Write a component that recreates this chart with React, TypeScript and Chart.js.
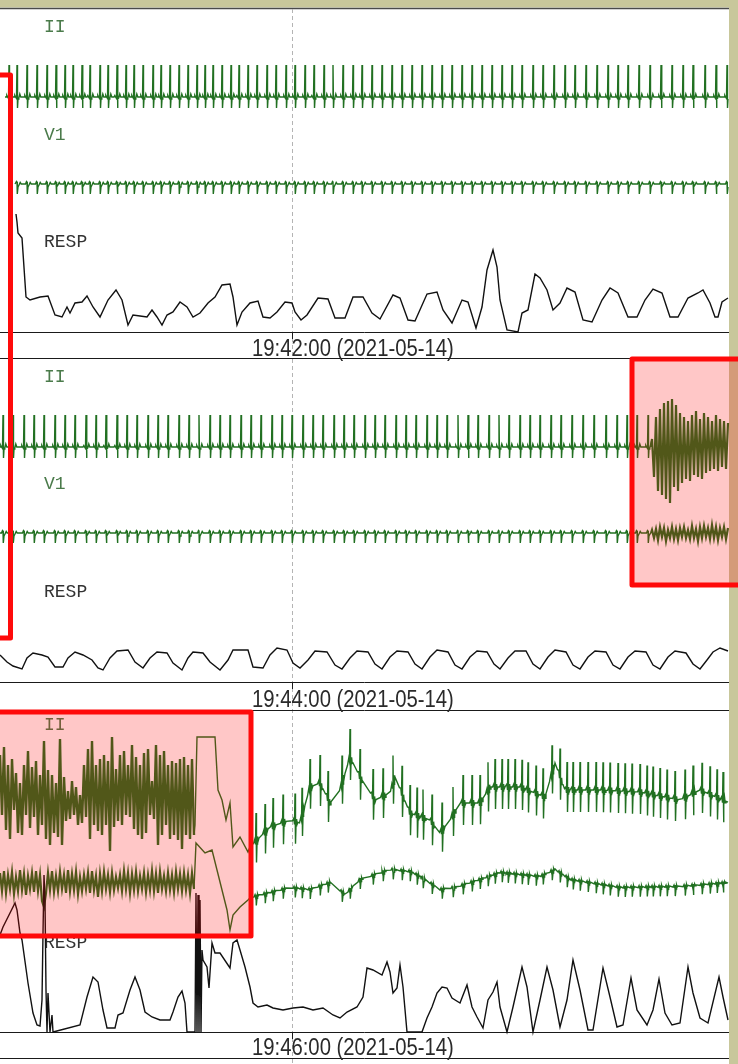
import { useEffect, useRef } from 'react';
import { Chart, registerables } from 'chart.js';

Chart.register(...registerables);

// ---------- labels ----------
const TIME_LABELS = ['19:42:00 (2021-05-14)', '19:44:00 (2021-05-14)', '19:46:00 (2021-05-14)'];
const TICK_TIME = 29.2; // seconds into each strip where the time label tick sits
const LEAD_NAMES = ['II', 'V1', 'RESP'];

// ---------- beat times (s) ----------
const P1_BEATS = [0.9, 1.7, 2.7, 3.7, 4.7, 5.6, 6.5, 7.3, 8.2, 9.0, 10.0, 10.8, 11.7, 12.6, 13.4, 14.3, 15.3, 16.1, 17.0, 17.9, 18.8, 19.7, 20.5, 21.3, 22.2, 23.1, 23.9, 24.8, 25.7, 26.7, 27.6, 28.6, 29.5, 30.5, 31.4, 32.4, 33.3, 34.3, 35.3, 36.2, 37.2, 38.2, 39.2, 40.2, 41.2, 42.2, 43.2, 44.2, 45.2, 46.2, 47.2, 48.2, 49.2, 50.2, 51.2, 52.2, 53.3, 54.3, 55.4, 56.5, 57.5, 58.6, 59.7, 60.8, 61.8, 62.8, 63.9, 65.0, 66.1, 67.2, 68.3, 69.3, 70.5, 71.6, 72.7];
const P2_BEATS = [0.3, 1.3, 2.4, 3.4, 4.4, 5.5, 6.5, 7.5, 8.6, 9.6, 10.6, 11.7, 12.7, 13.7, 14.8, 15.8, 16.8, 17.9, 18.9, 19.9, 21.0, 22.0, 23.0, 24.1, 25.1, 26.1, 27.2, 28.2, 29.2, 30.3, 31.3, 32.3, 33.4, 34.4, 35.4, 36.5, 37.5, 38.5, 39.6, 40.6, 41.6, 42.7, 43.7, 44.7, 45.8, 46.8, 47.8, 48.9, 49.9, 50.9, 52.0, 53.0, 54.0, 55.1, 56.1, 57.2, 58.3, 59.4, 60.6, 61.7, 62.7, 63.7, 64.8];
const P3_BEATS = [25.6, 26.5, 27.3, 28.3, 29.5, 30.2, 31.0, 32.0, 32.8, 34.2, 35.0, 36.0, 37.3, 38.3, 39.3, 40.2, 41.0, 41.7, 42.3, 43.2, 44.2, 45.3, 46.3, 47.2, 48.0, 48.8, 49.5, 50.2, 50.8, 51.5, 52.2, 52.8, 53.6, 54.3, 55.2, 56.0, 56.7, 57.3, 58.0, 58.8, 59.6, 60.3, 61.0, 61.8, 62.5, 63.2, 64.0, 64.7, 65.3, 66.0, 66.7, 67.5, 68.5, 69.3, 70.2, 71.0, 71.7, 72.3];

// ---------- beat shapes [dt s, amplitude] ----------
const II_TPL = [[-0.3, 0], [-0.22, 1.5], [-0.15, 0], [-0.05, -1.5], [0, 32], [0.05, -11], [0.1, -2], [0.18, -1], [0.28, 3], [0.38, 0]];
const V1_TPL = [[-0.15, 0], [-0.05, 2.5], [0, 2], [0.03, -10], [0.1, -3], [0.2, -1], [0.32, 1.5], [0.42, 0]];
const P3_II_TPL = [[-0.25, 0], [-0.12, 3], [-0.05, -3], [0, 28], [0.05, -22], [0.1, -4], [0.16, 3], [0.22, -2], [0.3, 0]];
const P3_V1_TPL = [[-0.2, 0], [-0.1, 2], [-0.04, -1], [0, 2], [0.03, -9], [0.1, -2], [0.16, 2], [0.22, 0], [0.3, 1]];

// ---------- artifact samples (every 0.2 s) ----------
const P2_II_ART = [8, -30, 30, -44, 38, -48, 44, -52, 46, -56, 48, -40, 42, -44, 34, -36, 30, -32, 26, -34, 32, -28, 36, -30, 28, -32, 34, -26, 30, -24, 26, -22, 32, -24, 28, -20, 26, -22, 24];
const P2_V1_ART = [3, -5, 4, -7, 6, -4, 5, -8, 3, -5, 6, -6, 4, -7, 5, -4, 6, -5, 3, -6, 7, -5, 4, -8, 6, -5, 7, -4, 5, -6, 8, -5, 6, -7, 5, -4, 6, -6, 5];
const P3_II_ART = [40, -20, 48, -35, 30, -44, 36, -15, 22, -38, 12, -40, 30, -20, 44, -33, 28, -22, 34, -40, 20, -30, 54, -44, 25, -50, 20, -38, 12, -42, 56, -50, 18, -26, 4, -24, 14, -20, 8, -30, 0, -28, 30, -22, 46, -44, 54, -30, 30, -36, 36, -40, 40, -30, 34, -56, 58, -32, 26, -26, 40, -30, 44, -20, 30, -22, 50, -34, 38, -40, 30, -44, 42, -38, 46, -20, 14, -24, 50, -50, 40, -40, 44, -30, 30, -44, 34, -40, 32, -45, 36, -54, 38, -40, 30, -44, 36, -40];
const P3_V1_ART = [12, -6, 14, -8, 10, -4, 13, -9, 8, -6, 15, -5, 11, -10, 9, -4, 12, -7, 14, -6, 10, -16, -22, -8, 12, -5, 14, -7, 9, -6, 13, -4, 10, -8, 15, -6, 11, -5, 13, -9, 8, -6, 10, -4, 12, -8, 14, -5, 9, -12, 11, -6, 13, -4, 10, -7, 12, -5, 8, -3, 10, -6, 14, -4, 12, -8, 11, -5, 13, -6, 9, -4, 12, -7, 10, -5, 14, -6, 11, -8, 13, -4, 9, -6, 12, -5, 10, -7, 13, -4, 11, -6, 12, -5, 10, -8, 12, -4];

// ---------- transitions and baseline wander [t, amp] ----------
const P3_II_TRANS = [[19.5, -30], [19.7, 58], [21.5, 58], [21.8, 5], [22.2, -5], [22.6, -25], [23.0, -8], [23.3, -52], [24.0, -42], [24.8, -57]];
const P3_V1_TRANS = [[19.6, 42], [20.5, 32], [21.2, 35], [21.7, 15], [22.2, -5], [22.7, -25], [23.0, -45], [23.3, -30], [24.0, -22], [24.8, -15]];
const P3_II_WANDER = [[25.0, -52], [27.0, -32], [29.0, -25], [30.0, -28], [31.0, 8], [32.0, 12], [33.0, -8], [34.0, 5], [35.0, 38], [36.0, 18], [37.5, -5], [39.0, 2], [39.5, 18], [41.0, -18], [43.0, -25], [44.0, -38], [45.0, -25], [46.0, -8], [48.0, -8], [49.0, 8], [52.0, 8], [54.5, -2], [55.5, 32], [56.5, 5], [60.0, 5], [64.0, 3], [68.0, -5], [70.0, 5], [73.0, -8]];
const P3_V1_WANDER = [[25.0, -13], [29.0, -3], [31.0, -5], [33.0, 2], [34.5, -10], [36.0, 5], [39.0, 15], [41.0, 13], [42.0, 8], [44.0, -5], [45.5, -3], [48.0, 5], [50.0, 12], [54.0, 8], [55.5, 15], [57.0, 5], [62.0, -3], [68.0, -2], [73.0, 2]];

// ---------- respiration [t, amp] ----------
const P1_RESP = [[1.6, 118], [1.7, 110], [1.8, 99], [2.2, 94], [2.6, 35], [3.0, 32], [4.0, 35], [4.8, 36], [5.5, 17], [6.2, 15], [6.7, 25], [7.0, 19], [7.5, 29], [8.2, 30], [8.7, 36], [9.3, 25], [10.0, 15], [10.8, 32], [11.6, 42], [12.2, 32], [12.8, 7], [13.3, 17], [14.0, 16], [14.7, 15], [15.2, 22], [15.7, 15], [16.2, 7], [16.7, 17], [17.3, 20], [18.0, 30], [18.7, 25], [19.3, 15], [20.0, 19], [20.8, 29], [21.5, 35], [22.2, 47], [23.0, 48], [23.3, 35], [23.7, 7], [24.2, 20], [25.0, 29], [25.8, 31], [26.3, 15], [27.0, 14], [27.7, 20], [28.5, 30], [29.2, 29], [29.5, 20], [30.1, 12], [30.7, 17], [31.8, 34], [32.8, 33], [33.5, 14], [34.5, 14], [35.3, 35], [36.3, 35], [37.2, 19], [38.0, 13], [39.3, 37], [40.0, 34], [40.8, 12], [41.5, 11], [42.7, 38], [43.7, 40], [44.3, 22], [45.2, 9], [46.2, 32], [46.8, 30], [47.6, 4], [48.2, 25], [48.7, 62], [49.3, 82], [49.7, 65], [50.0, 32], [50.7, 2], [51.8, 0], [52.2, 19], [52.8, 22], [53.5, 58], [54.0, 54], [54.7, 42], [55.3, 22], [56.0, 29], [56.7, 44], [57.5, 40], [58.3, 12], [59.2, 10], [60.2, 32], [61.0, 44], [61.8, 39], [62.8, 15], [63.7, 15], [64.5, 32], [65.3, 43], [66.2, 39], [67.0, 15], [67.8, 15], [68.8, 34], [69.8, 39], [70.3, 42], [71.0, 29], [71.5, 15], [71.8, 15], [72.2, 30], [72.8, 34]];
const P2_RESP = [[0, 27], [0.7, 20], [1.3, 16], [2.2, 13], [2.7, 24], [3.3, 29], [4.2, 27], [4.8, 25], [5.5, 15], [6.3, 15], [6.8, 24], [7.5, 30], [8.3, 27], [9.2, 22], [9.8, 14], [10.3, 12], [11.0, 24], [11.7, 31], [12.8, 32], [13.5, 20], [14.3, 14], [15.0, 24], [15.7, 30], [16.7, 29], [17.3, 19], [18.2, 12], [18.8, 24], [19.3, 30], [20.3, 29], [21.0, 20], [22.0, 12], [22.8, 22], [23.3, 32], [24.8, 32], [25.3, 15], [26.3, 14], [27.0, 27], [27.7, 34], [28.7, 32], [29.3, 19], [30.0, 14], [30.8, 22], [31.5, 31], [32.7, 30], [33.5, 17], [34.2, 13], [35.0, 24], [35.7, 31], [36.8, 30], [37.5, 18], [38.2, 13], [39.0, 25], [39.7, 31], [40.8, 30], [41.5, 18], [42.2, 13], [43.0, 25], [43.7, 32], [44.8, 30], [45.5, 17], [46.2, 13], [47.0, 25], [47.7, 31], [48.7, 30], [49.4, 18], [50.0, 13], [50.8, 24], [51.5, 31], [52.6, 31], [53.3, 18], [54.0, 13], [54.8, 25], [55.5, 32], [56.6, 30], [57.3, 17], [58.0, 13], [58.8, 25], [59.5, 31], [60.6, 30], [61.3, 17], [62.0, 13], [62.8, 25], [63.5, 31], [64.6, 30], [65.3, 17], [66.0, 13], [66.8, 25], [67.5, 31], [68.6, 29], [69.3, 18], [70.0, 13], [70.7, 22], [71.3, 30], [72.0, 34], [72.8, 31]];
const P3_RESP = [[0, 97], [0.3, 105], [1.0, 119], [1.5, 129], [1.7, 122], [2.0, 99], [2.2, 92], [2.8, 49], [3.3, 19], [3.7, 7], [4.0, 6], [4.2, 32], [4.3, 99], [4.4, 157], [4.5, 132], [4.6, 42], [4.7, 0], [4.8, 39], [5.0, 0], [5.2, 17], [5.3, 0], [8.0, 7], [8.7, 35], [9.3, 55], [9.8, 50], [10.3, 22], [10.7, 4], [11.5, 4], [11.8, 17], [12.3, 19], [13.0, 42], [13.5, 55], [14.0, 42], [14.5, 20], [15.2, 15], [16.0, 12], [17.0, 12], [17.3, 20], [17.8, 35], [18.2, 41], [18.5, 29], [18.7, 0], [19.5, 0], [19.6, 139], [19.7, 0], [19.8, 137], [19.9, 0], [20.0, 132], [20.1, 0], [20.2, 82], [20.3, 72], [20.7, 65], [20.9, 44], [21.2, 89], [21.5, 79], [22.0, 79], [23.0, 64], [23.3, 89], [23.7, 92], [24.0, 82], [24.5, 65], [25.0, 45], [25.3, 29], [25.8, 25], [26.7, 27], [27.3, 24], [28.3, 22], [29.3, 24], [30.3, 25], [31.3, 22], [32.3, 24], [33.3, 17], [34.0, 14], [34.7, 20], [35.7, 25], [36.3, 35], [36.7, 64], [37.3, 62], [38.2, 57], [38.7, 70], [39.0, 60], [39.3, 39], [39.7, 44], [40.0, 67], [40.3, 45], [40.7, 0], [42.2, 0], [42.7, 14], [43.2, 25], [43.7, 39], [44.2, 45], [44.7, 44], [45.2, 34], [46.0, 29], [46.7, 47], [47.2, 25], [47.7, 15], [48.3, 4], [48.8, 32], [49.3, 40], [49.7, 50], [50.0, 25], [50.7, 0], [51.3, 25], [52.2, 65], [52.7, 45], [53.3, 0], [54.0, 32], [54.7, 65], [55.3, 42], [56.0, 5], [56.7, 32], [57.3, 72], [58.0, 42], [58.8, 2], [59.3, 2], [60.3, 64], [61.0, 35], [61.7, 5], [62.3, 7], [63.1, 54], [63.7, 22], [64.7, 7], [65.3, 22], [65.9, 53], [66.5, 19], [67.2, 7], [68.0, 9], [68.8, 65], [69.3, 39], [70.0, 14], [70.8, 9], [71.9, 55], [72.3, 35], [72.8, 12]];

// ---------- layout (y axis units, top-down) ----------
const TRACE_END = 72.9;
const X_MAX = 73.8;
const Y_MAX = 1064;
const TOP_LINE = 8;
const PANEL_LINES = [332, 358, 682, 710, 1032, 1058];
const PANEL_BOTTOMS = [332, 682, 1032];
const LABEL_BASELINES = [356, 707, 1055];
const LEAD_BASELINES = [[32, 140, 247], [382, 489, 597], [730, null, 948]];
const II_BASE = [97, 447, 795];
const V1_BASE = [184, 533, 885];
const RECTS = [
  { x0: -2, x1: 1.05, y0: 75, y1: 638, fill: false },
  { x0: 63.2, x1: 76, y0: 359, y1: 585, fill: true },
  { x0: -2, x1: 25.1, y0: 712, y1: 936, fill: true },
];

const GREEN = '#217021';
const OLIVE = '#c8c79b';

// ---------- helpers ----------
function interp(pairs: number[][], t: number): number {
  if (t <= pairs[0][0]) return pairs[0][1];
  for (let i = 1; i < pairs.length; i++) {
    if (t <= pairs[i][0]) {
      const [x0, y0] = pairs[i - 1];
      const [x1, y1] = pairs[i];
      return y0 + ((y1 - y0) * (t - x0)) / (x1 - x0);
    }
  }
  return pairs[pairs.length - 1][1];
}

function beatsToPairs(beats: number[], tpl: number[][], wander: number[][] | null, start: number, end: number): number[][] {
  const lvl = (t: number) => (wander ? interp(wander, t) : 0);
  const out: number[][] = [[start, lvl(start)]];
  for (const b of beats) {
    for (const [dt, a] of tpl) {
      const t = b + dt;
      if (t <= out[out.length - 1][0] || t > end) continue;
      out.push([t, lvl(t) + a]);
    }
  }
  if (end > out[out.length - 1][0]) out.push([end, lvl(end)]);
  return out;
}

function sampled(values: number[], t0: number, step: number): number[][] {
  return values.map((v, i) => [t0 + i * step, v]);
}

function toPoints(pairs: number[][], base: number) {
  return pairs.map(([t, a]) => ({ x: t, y: base - a }));
}

function buildDatasets() {
  const line = (pairs: number[][], base: number, color: string, width: number) => ({
    data: toPoints(pairs, base),
    borderColor: color,
    borderWidth: width,
    parsing: false as const,
  });

  const p1II = beatsToPairs(P1_BEATS, II_TPL, null, 0.5, 72.8);
  const p1V1 = beatsToPairs(P1_BEATS.slice(1), V1_TPL, null, 1.5, 72.8);

  const p2II = beatsToPairs(P2_BEATS, II_TPL, null, 0, 65.1);
  const p2V1 = beatsToPairs(P2_BEATS, V1_TPL, null, 0, 65.1);
  const p2IIArt = [[65.1, 0], ...sampled(P2_II_ART, 65.2, 0.2)];
  const p2V1Art = [[65.1, 0], ...sampled(P2_V1_ART, 65.2, 0.2)];

  const p3IIArt = sampled(P3_II_ART, 0, 0.2);
  const p3V1Art = sampled(P3_V1_ART, 0, 0.2);
  const p3II = [p3IIArt[p3IIArt.length - 1], ...P3_II_TRANS, ...beatsToPairs(P3_BEATS, P3_II_TPL, P3_II_WANDER, 25.0, 72.8)];
  const p3V1 = [p3V1Art[p3V1Art.length - 1], ...P3_V1_TRANS, ...beatsToPairs(P3_BEATS, P3_V1_TPL, P3_V1_WANDER, 25.0, 72.8)];

  return [
    line(p1II, II_BASE[0], GREEN, 1.4), line(p1V1, V1_BASE[0], GREEN, 1.4), line(P1_RESP, PANEL_BOTTOMS[0], '#111', 1.4),
    line(p2II, II_BASE[1], GREEN, 1.4), line(p2V1, V1_BASE[1], GREEN, 1.4), line(P2_RESP, PANEL_BOTTOMS[1], '#111', 1.4),
    line(p2IIArt, II_BASE[1], GREEN, 2.2), line(p2V1Art, V1_BASE[1], GREEN, 2.2),
    line(p3II, II_BASE[2], GREEN, 1.4), line(p3V1, V1_BASE[2], GREEN, 1.4), line(P3_RESP, PANEL_BOTTOMS[2], '#111', 1.4),
    line(p3IIArt, II_BASE[2], GREEN, 2.4), line(p3V1Art, V1_BASE[2], GREEN, 2.2),
  ];
}

const framePlugin = {
  id: 'stripFrame',
  beforeDatasetsDraw(chart: any) {
    const { ctx, scales } = chart;
    const xs = scales.x;
    const ys = scales.y;
    const X = (v: number) => xs.getPixelForValue(v);
    const Y = (v: number) => ys.getPixelForValue(v);
    const xl = X(0);
    const xr = X(TRACE_END);
    ctx.save();
    ctx.fillStyle = '#ffffff';
    ctx.fillRect(0, 0, chart.width, chart.height);
    ctx.fillStyle = OLIVE;
    ctx.fillRect(0, 0, chart.width, Y(TOP_LINE) - 0.5);
    ctx.fillRect(xr, 0, chart.width - xr, chart.height);

    ctx.strokeStyle = '#4a4a4a';
    ctx.lineWidth = 1.5;
    ctx.beginPath();
    ctx.moveTo(xl, Y(TOP_LINE) + 0.5);
    ctx.lineTo(xr, Y(TOP_LINE) + 0.5);
    ctx.stroke();

    // dashed time marker
    const xt = Math.round(X(TICK_TIME)) + 0.5;
    ctx.strokeStyle = '#b4b4b4';
    ctx.lineWidth = 1;
    ctx.setLineDash([4, 3]);
    ctx.beginPath();
    ctx.moveTo(xt, Y(TOP_LINE) + 1);
    ctx.lineTo(xt, Y(Y_MAX));
    ctx.stroke();
    ctx.setLineDash([]);

    ctx.strokeStyle = '#1a1a1a';
    ctx.lineWidth = 1;
    for (const yv of PANEL_LINES) {
      const y = Math.round(Y(yv)) + 0.5;
      ctx.beginPath();
      ctx.moveTo(xl, y);
      ctx.lineTo(xr, y);
      ctx.stroke();
    }
    for (const yv of PANEL_BOTTOMS) {
      const y = Math.round(Y(yv));
      ctx.beginPath();
      ctx.moveTo(xt, y);
      ctx.lineTo(xt, y + 7);
      ctx.stroke();
    }

    // time labels
    ctx.fillStyle = '#2a2a2a';
    ctx.font = '20.7px "Liberation Sans", Arial, sans-serif';
    ctx.textBaseline = 'alphabetic';
    TIME_LABELS.forEach((txt, i) => {
      ctx.save();
      ctx.translate(X(25.2), Y(LABEL_BASELINES[i]));
      ctx.scale(0.98, 1.13);
      ctx.fillText(txt, 0, 0);
      ctx.restore();
    });

    // lead labels
    ctx.font = '18px "Liberation Mono", monospace';
    LEAD_BASELINES.forEach((row) => {
      row.forEach((yb, j) => {
        if (yb === null) return;
        ctx.fillStyle = j < 2 ? '#4b7b4b' : '#333333';
        ctx.fillText(LEAD_NAMES[j], X(4.4), Y(yb));
      });
    });
    ctx.restore();
  },
};

const overlayPlugin = {
  id: 'markBoxes',
  afterDatasetsDraw(chart: any) {
    const { ctx, scales } = chart;
    const X = (v: number) => scales.x.getPixelForValue(v);
    const Y = (v: number) => scales.y.getPixelForValue(v);
    ctx.save();
    ctx.lineJoin = 'round';
    for (const r of RECTS) {
      const x = X(r.x0);
      const y = Y(r.y0);
      const w = X(r.x1) - x;
      const h = Y(r.y1) - y;
      if (r.fill) {
        ctx.fillStyle = 'rgba(255, 0, 0, 0.22)';
        ctx.fillRect(x, y, w, h);
      }
      ctx.strokeStyle = '#ff0a0a';
      ctx.lineWidth = 5;
      ctx.strokeRect(x, y, w, h);
    }
    ctx.restore();
  },
};

export default function App() {
  const ref = useRef<HTMLCanvasElement>(null);
  useEffect(() => {
    document.body.style.margin = '0';
    const chart = new Chart(ref.current as HTMLCanvasElement, {
      type: 'line',
      data: { datasets: buildDatasets() as any },
      options: {
        animation: false,
        responsive: false,
        devicePixelRatio: 1,
        events: [],
        layout: { padding: 0 },
        plugins: { legend: { display: false }, tooltip: { enabled: false } },
        elements: { point: { radius: 0 }, line: { tension: 0, fill: false } },
        scales: {
          x: { type: 'linear', min: 0, max: X_MAX, display: false },
          y: { type: 'linear', min: 0, max: Y_MAX, reverse: true, display: false },
        },
      },
      plugins: [framePlugin, overlayPlugin],
    });
    return () => chart.destroy();
  }, []);
  return <canvas ref={ref} width={738} height={1064} style={{ display: 'block' }} />;
}
